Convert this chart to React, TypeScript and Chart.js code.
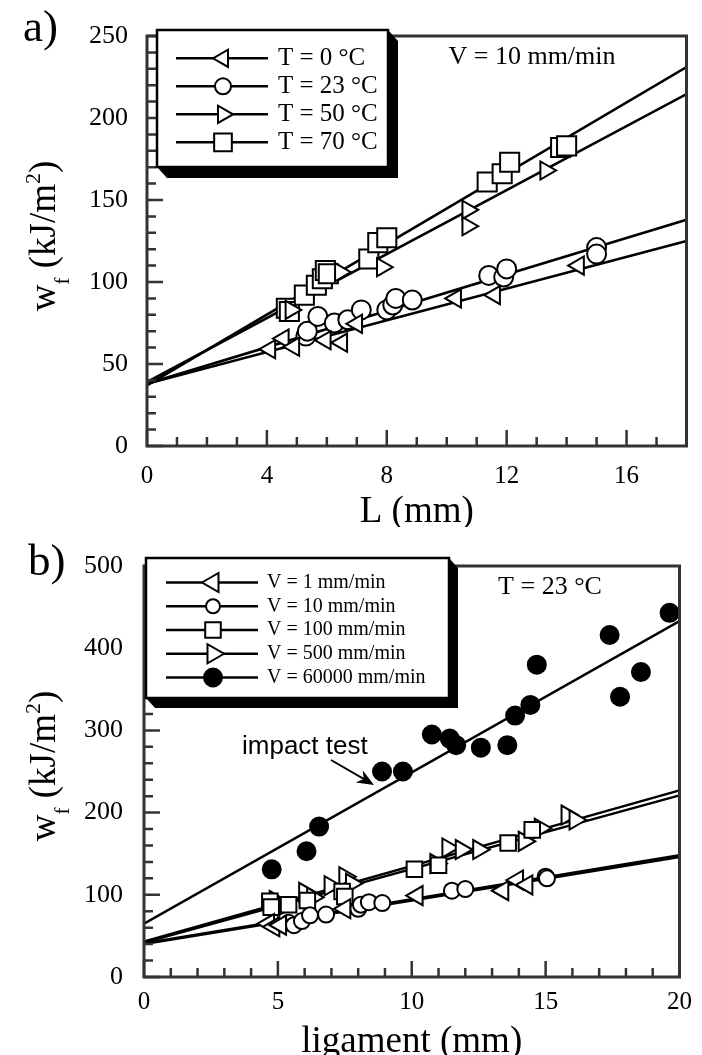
import React, { useEffect, useRef } from "react";
import { Chart, registerables } from "chart.js";

Chart.register(...registerables);

const SERIF = "'Liberation Serif', 'Times New Roman', serif";
const SANS = "'Liberation Sans', Arial, sans-serif";
const AXIS_COLOR = "#333333";

// ---------------- panel a) ----------------
const aLabels = ["T = 0 °C", "T = 23 °C", "T = 50 °C", "T = 70 °C"];
const aT0X = [4.1, 4.55, 4.9, 5.95, 6.5, 7.0, 10.3, 11.6, 14.4];
const aT0Y = [59, 65.5, 60.5, 64.5, 63, 74.5, 90, 92, 110];
const aT23X = [5.3, 5.35, 5.7, 6.25, 6.7, 7.15, 8.0, 8.2, 8.3, 8.85, 11.4, 11.9, 12.0, 15.0, 15.0];
const aT23Y = [67, 70, 79, 75, 77, 83, 83, 86, 90, 89, 104, 103, 108, 121, 117];
const aT50X = [4.8, 6.45, 7.85, 10.7, 10.7, 13.3];
const aT50Y = [83, 106, 109, 144, 134, 168];
const aT70X = [4.65, 4.75, 5.25, 5.65, 5.85, 5.95, 6.05, 7.4, 7.7, 8.0, 11.35, 11.85, 12.1, 13.8, 14.0];
const aT70Y = [84, 82, 92, 98, 102, 107, 105, 114, 124, 127, 161, 166, 173, 182, 183];
const aFitX = [0, 18];
const aFitT0 = [38, 125];
const aFitT23 = [38, 138];
const aFitT50 = [39, 214.5];
const aFitT70 = [37, 231];
const aXTickLabels = [0, 4, 8, 12, 16];
const aYTickLabels = [0, 50, 100, 150, 200, 250];

// ---------------- panel b) ----------------
const bLabels = ["V = 1 mm/min", "V = 10 mm/min", "V = 100 mm/min", "V = 500 mm/min", "V = 60000 mm/min"];
const bV1X = [4.65, 4.85, 5.1, 7.5, 10.2, 13.4, 13.95, 14.3];
const bV1Y = [65, 61, 63, 83, 99, 105, 118, 112];
const bV10X = [5.4, 5.6, 5.9, 6.2, 6.8, 8.0, 8.1, 8.4, 8.9, 11.5, 12.0, 15.0, 15.05];
const bV10Y = [66, 63, 68, 75, 76, 83, 88, 91, 90, 105, 107, 122, 120];
const bV100X = [4.7, 4.75, 5.4, 6.1, 7.4, 7.5, 10.1, 11.0, 13.6, 14.5];
const bV100Y = [92, 85, 88, 93, 104, 98, 131, 136, 163, 179];
const bV500X = [4.9, 5.2, 6.0, 6.3, 6.95, 7.5, 7.75, 10.9, 11.35, 11.85, 12.5, 14.2, 14.8, 15.8, 16.1];
const bV500Y = [93, 86, 103, 97, 111, 122, 114, 138, 157, 155, 155, 165, 181, 197, 191];
const bV60000X = [4.77, 6.07, 6.54, 8.89, 9.67, 10.75, 11.42, 11.66, 12.58, 13.57, 13.86, 14.43, 14.67, 17.39, 17.78, 18.56, 19.63];
const bV60000Y = [131, 153, 183, 250, 250, 295, 290, 282, 279, 282, 318, 331, 380, 416, 341, 371, 443];
const bFitX = [0, 20];
const bFitV1 = [40, 146];
const bFitV10 = [41, 148];
const bFitV100 = [42, 221];
const bFitV500 = [43, 227];
const bFitV60000 = [65, 433];
const bXTickLabels = [0, 5, 10, 15, 20];
const bYTickLabels = [0, 100, 200, 300, 400, 500];

type Pt = { x: number; y: number };
const pts = (xs: number[], ys: number[]): Pt[] => xs.map((x, i) => ({ x, y: ys[i] }));

interface SeriesSpec {
  label: string;
  xs: number[];
  ys: number[];
  fitY: number[];
  style: "triangle" | "circle" | "rect";
  rot: number;
  filled: boolean;
  r: number;
  lr: number;
}

interface LegendSpec {
  x: number; y: number; w: number; h: number; sx: number; sy: number;
  rowY0: number; rowDy: number; lx1: number; lx2: number; mx: number; tx: number; fontSize: number;
}

interface PanelSpec {
  width: number; height: number;
  area: { left: number; top: number; right: number; bottom: number };
  xMin: number; xMax: number; xStep: number; xMajor: number[];
  yMin: number; yMax: number; yStep: number; yMajor: number[];
  fitX: number[];
  xTitle: string; xTickPad: number; yTickPad: number; xTitleLH: number;
  xTickSize: number; yTickSize: number;
  series: SeriesSpec[];
  legend: LegendSpec;
  yTitleCx: number; yTitleCy: number;
  extra: (ctx: CanvasRenderingContext2D) => void;
}

function drawMarker(ctx: CanvasRenderingContext2D, style: string, x: number, y: number, r: number, rot: number, fill: string | null) {
  ctx.beginPath();
  if (style === "circle") {
    ctx.arc(x, y, r, 0, Math.PI * 2);
  } else if (style === "rect") {
    const s = r * Math.SQRT1_2;
    ctx.rect(x - s, y - s, 2 * s, 2 * s);
  } else {
    let rad = (rot * Math.PI) / 180;
    ctx.moveTo(x + Math.sin(rad) * r, y - Math.cos(rad) * r);
    rad += (2 * Math.PI) / 3;
    ctx.lineTo(x + Math.sin(rad) * r, y - Math.cos(rad) * r);
    rad += (2 * Math.PI) / 3;
    ctx.lineTo(x + Math.sin(rad) * r, y - Math.cos(rad) * r);
    ctx.closePath();
  }
  if (fill) {
    ctx.fillStyle = fill;
    ctx.fill();
  }
  ctx.stroke();
}

function drawLegend(ctx: CanvasRenderingContext2D, L: LegendSpec, series: SeriesSpec[]) {
  ctx.save();
  // shadow
  ctx.fillStyle = "#000";
  ctx.beginPath();
  ctx.moveTo(L.x, L.y + L.h);
  ctx.lineTo(L.x + L.sx, L.y + L.h + L.sy);
  ctx.lineTo(L.x + L.w + L.sx, L.y + L.h + L.sy);
  ctx.lineTo(L.x + L.w + L.sx, L.y + L.sy);
  ctx.lineTo(L.x + L.w, L.y);
  ctx.closePath();
  ctx.fill();
  ctx.fillStyle = "#fff";
  ctx.fillRect(L.x, L.y, L.w, L.h);
  ctx.strokeStyle = "#000";
  ctx.lineWidth = 2.5;
  ctx.strokeRect(L.x, L.y, L.w, L.h);
  series.forEach((s, i) => {
    const y = L.rowY0 + i * L.rowDy;
    ctx.strokeStyle = "#000";
    ctx.lineWidth = 2.5;
    ctx.beginPath();
    ctx.moveTo(L.lx1, y);
    ctx.lineTo(L.lx2, y);
    ctx.stroke();
    ctx.lineWidth = 2;
    drawMarker(ctx, s.style, L.mx, y, s.lr, s.rot, s.filled ? "#000" : "#fff");
    ctx.fillStyle = "#000";
    ctx.font = `${L.fontSize}px ${SERIF}`;
    ctx.textAlign = "left";
    ctx.textBaseline = "middle";
    ctx.fillText(s.label, L.tx, y);
  });
  ctx.restore();
}

function drawYTitle(ctx: CanvasRenderingContext2D, cx: number, cy: number) {
  const parts = [
    { t: "w", size: 37, dy: 0 },
    { t: "f", size: 21, dy: 14 },
    { t: " (kJ/m", size: 37, dy: 0 },
    { t: "2", size: 22, dy: -15 },
    { t: ")", size: 37, dy: 0 },
  ];
  ctx.save();
  ctx.translate(cx, cy);
  ctx.rotate(-Math.PI / 2);
  ctx.fillStyle = "#000";
  ctx.textAlign = "left";
  ctx.textBaseline = "alphabetic";
  let total = 0;
  const widths = parts.map((p) => {
    ctx.font = `${p.size}px ${SERIF}`;
    const w = ctx.measureText(p.t).width;
    total += w;
    return w;
  });
  let x = -total / 2;
  parts.forEach((p, i) => {
    ctx.font = `${p.size}px ${SERIF}`;
    ctx.fillText(p.t, x, p.dy);
    x += widths[i];
  });
  ctx.restore();
}

function buildChart(canvas: HTMLCanvasElement, spec: PanelSpec): Chart {
  const datasets: any[] = [];
  spec.series.forEach((s) => {
    datasets.push({
      label: s.label,
      data: pts(s.xs, s.ys),
      showLine: false,
      pointStyle: s.style,
      pointRotation: s.rot,
      pointRadius: s.r,
      pointBorderWidth: 2,
      pointBorderColor: "#000",
      pointBackgroundColor: s.filled ? "#000" : "#fff",
      borderColor: "#000",
      backgroundColor: s.filled ? "#000" : "#fff",
      order: 1,
    });
  });
  spec.series.forEach((s) => {
    datasets.push({
      label: s.label + " fit",
      data: pts(spec.fitX, s.fitY),
      showLine: true,
      borderColor: "#000",
      borderWidth: 2.5,
      pointRadius: 0,
      fill: false,
      tension: 0,
      order: 2,
    });
  });

  const decor = {
    id: "decor",
    afterDraw(chart: any) {
      const ctx: CanvasRenderingContext2D = chart.ctx;
      const { left, right, top, bottom } = chart.chartArea;
      ctx.save();
      ctx.strokeStyle = AXIS_COLOR;
      ctx.lineWidth = 2.5;
      ctx.beginPath();
      const xs = chart.scales.x;
      const ys = chart.scales.y;
      xs.ticks.forEach((t: any) => {
        const px = xs.getPixelForValue(t.value);
        const len = spec.xMajor.includes(t.value) ? 16 : 9;
        ctx.moveTo(px, bottom);
        ctx.lineTo(px, bottom - len);
      });
      ys.ticks.forEach((t: any) => {
        const py = ys.getPixelForValue(t.value);
        const len = spec.yMajor.includes(t.value) ? 16 : 9;
        ctx.moveTo(left, py);
        ctx.lineTo(left + len, py);
      });
      ctx.stroke();
      ctx.lineWidth = 3;
      ctx.strokeRect(left, top, right - left, bottom - top);
      ctx.restore();
      drawLegend(ctx, spec.legend, spec.series);
      drawYTitle(ctx, spec.yTitleCx, spec.yTitleCy);
      ctx.save();
      spec.extra(ctx);
      ctx.restore();
    },
  };

  return new Chart(canvas, {
    type: "scatter",
    data: { datasets },
    plugins: [decor],
    options: {
      animation: false,
      responsive: false,
      devicePixelRatio: 1,
      events: [],
      layout: {
        padding: { left: 0, top: spec.area.top, right: spec.width - spec.area.right, bottom: 0 },
      },
      plugins: {
        legend: { display: false },
        tooltip: { enabled: false },
        title: { display: false },
      },
      scales: {
        x: {
          type: "linear",
          position: "bottom",
          min: spec.xMin,
          max: spec.xMax,
          grid: { display: false, drawTicks: false },
          border: { display: false },
          ticks: {
            stepSize: spec.xStep,
            autoSkip: false,
            maxRotation: 0,
            minRotation: 0,
            padding: spec.xTickPad,
            color: "#000",
            font: { family: SERIF, size: spec.xTickSize },
            callback: (v: any) => (spec.xMajor.includes(Number(v)) ? String(v) : ""),
          },
          title: {
            display: true,
            text: spec.xTitle,
            color: "#000",
            padding: 0,
            font: { family: SERIF, size: 37, lineHeight: spec.xTitleLH },
          },
          afterFit: (s: any) => {
            s.height = spec.height - spec.area.bottom;
          },
        },
        y: {
          type: "linear",
          position: "left",
          min: spec.yMin,
          max: spec.yMax,
          grid: { display: false, drawTicks: false },
          border: { display: false },
          ticks: {
            stepSize: spec.yStep,
            autoSkip: false,
            padding: spec.yTickPad,
            color: "#000",
            font: { family: SERIF, size: spec.yTickSize },
            callback: (v: any) => (spec.yMajor.includes(Number(v)) ? String(v) : ""),
          },
          title: { display: false },
          afterFit: (s: any) => {
            s.width = spec.area.left;
          },
        },
      },
    } as any,
  });
}

const specA: PanelSpec = {
  width: 702,
  height: 527,
  area: { left: 147, top: 36, right: 696, bottom: 446 },
  xMin: 0, xMax: 18, xStep: 1, xMajor: aXTickLabels,
  yMin: 0, yMax: 250, yStep: 10, yMajor: aYTickLabels,
  fitX: aFitX,
  xTitle: "L (mm)", xTickPad: 15, yTickPad: 19, xTitleLH: 0.8,
  xTickSize: 25, yTickSize: 26,
  series: [
    { label: aLabels[0], xs: aT0X, ys: aT0Y, fitY: aFitT0, style: "triangle", rot: -90, filled: false, r: 10.5, lr: 10 },
    { label: aLabels[1], xs: aT23X, ys: aT23Y, fitY: aFitT23, style: "circle", rot: 0, filled: false, r: 9.5, lr: 8 },
    { label: aLabels[2], xs: aT50X, ys: aT50Y, fitY: aFitT50, style: "triangle", rot: 90, filled: false, r: 10.5, lr: 10 },
    { label: aLabels[3], xs: aT70X, ys: aT70Y, fitY: aFitT70, style: "rect", rot: 0, filled: false, r: 13.5, lr: 12.5 },
  ],
  legend: { x: 157, y: 30, w: 231, h: 137, sx: 10, sy: 11, rowY0: 58.3, rowDy: 28, lx1: 176, lx2: 268, mx: 223, tx: 278, fontSize: 25 },
  yTitleCx: 55,
  yTitleCy: 236,
  extra: (ctx) => {
    ctx.fillStyle = "#000";
    ctx.font = `45px ${SERIF}`;
    ctx.textAlign = "left";
    ctx.textBaseline = "alphabetic";
    ctx.fillText("a)", 23, 41);
    ctx.font = `26px ${SERIF}`;
    ctx.textAlign = "center";
    ctx.textBaseline = "middle";
    ctx.fillText("V = 10 mm/min", 532, 57);
  },
};

const specB: PanelSpec = {
  width: 702,
  height: 528,
  area: { left: 144, top: 39, right: 690, bottom: 450 },
  xMin: 0, xMax: 20, xStep: 1, xMajor: bXTickLabels,
  yMin: 0, yMax: 500, yStep: 20, yMajor: bYTickLabels,
  fitX: bFitX,
  xTitle: "ligament (mm)", xTickPad: 10, yTickPad: 21, xTitleLH: 0.7,
  xTickSize: 25, yTickSize: 26,
  series: [
    { label: bLabels[0], xs: bV1X, ys: bV1Y, fitY: bFitV1, style: "triangle", rot: -90, filled: false, r: 11, lr: 11 },
    { label: bLabels[1], xs: bV10X, ys: bV10Y, fitY: bFitV10, style: "circle", rot: 0, filled: false, r: 8, lr: 7 },
    { label: bLabels[2], xs: bV100X, ys: bV100Y, fitY: bFitV100, style: "rect", rot: 0, filled: false, r: 11, lr: 11 },
    { label: bLabels[3], xs: bV500X, ys: bV500Y, fitY: bFitV500, style: "triangle", rot: 90, filled: false, r: 11, lr: 11 },
    { label: bLabels[4], xs: bV60000X, ys: bV60000Y, fitY: bFitV60000, style: "circle", rot: 0, filled: true, r: 9, lr: 9 },
  ],
  legend: { x: 146, y: 31, w: 303, h: 140, sx: 9, sy: 10, rowY0: 55.5, rowDy: 23.75, lx1: 166, lx2: 258, mx: 213, tx: 267, fontSize: 20 },
  yTitleCx: 55,
  yTitleCy: 239,
  extra: (ctx) => {
    ctx.fillStyle = "#000";
    ctx.font = `45px ${SERIF}`;
    ctx.textAlign = "left";
    ctx.textBaseline = "alphabetic";
    ctx.fillText("b)", 28, 48);
    ctx.font = `26px ${SERIF}`;
    ctx.textAlign = "center";
    ctx.textBaseline = "middle";
    ctx.fillText("T = 23 °C", 550, 60);
    ctx.font = `26px ${SANS}`;
    ctx.textAlign = "left";
    ctx.textBaseline = "alphabetic";
    ctx.fillText("impact test", 242, 227);
    // arrow
    const x0 = 331, y0 = 233, x1 = 374, y1 = 258;
    const ang = Math.atan2(y1 - y0, x1 - x0);
    const len = 17, hw = 7;
    ctx.strokeStyle = "#000";
    ctx.lineWidth = 2;
    ctx.beginPath();
    ctx.moveTo(x0, y0);
    ctx.lineTo(x1 - Math.cos(ang) * 8, y1 - Math.sin(ang) * 8);
    ctx.stroke();
    const bx = x1 - Math.cos(ang) * len;
    const by = y1 - Math.sin(ang) * len;
    const nx = x1 - Math.cos(ang) * len * 0.7;
    const ny = y1 - Math.sin(ang) * len * 0.7;
    ctx.fillStyle = "#000";
    ctx.beginPath();
    ctx.moveTo(x1, y1);
    ctx.lineTo(bx - Math.sin(ang) * hw, by + Math.cos(ang) * hw);
    ctx.lineTo(nx, ny);
    ctx.lineTo(bx + Math.sin(ang) * hw, by - Math.cos(ang) * hw);
    ctx.closePath();
    ctx.fill();
  },
};

export default function App() {
  const refA = useRef<HTMLCanvasElement | null>(null);
  const refB = useRef<HTMLCanvasElement | null>(null);

  useEffect(() => {
    const charts: Chart[] = [];
    if (refA.current) charts.push(buildChart(refA.current, specA));
    if (refB.current) charts.push(buildChart(refB.current, specB));
    return () => {
      charts.forEach((c) => c.destroy());
    };
  }, []);

  return (
    <div style={{ position: "absolute", left: 0, top: 0, width: 702, height: 1055, background: "#fff" }}>
      <canvas
        ref={refA}
        width={702}
        height={527}
        style={{ position: "absolute", left: 0, top: 0, width: 702, height: 527, display: "block" }}
      />
      <canvas
        ref={refB}
        width={702}
        height={528}
        style={{ position: "absolute", left: 0, top: 527, width: 702, height: 528, display: "block" }}
      />
    </div>
  );
}
